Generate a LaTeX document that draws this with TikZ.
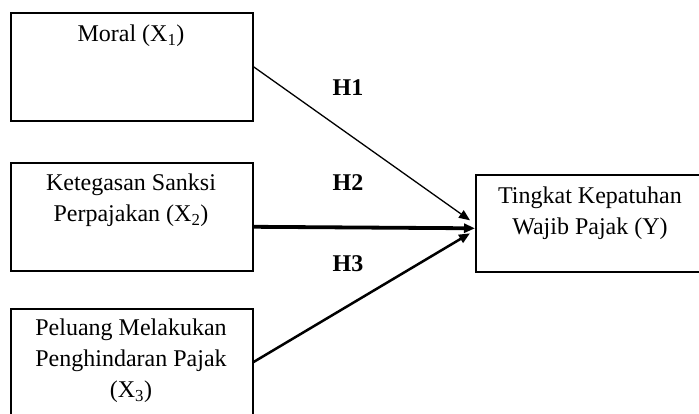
\documentclass[tikz,border=0pt]{standalone}
\usepackage{fontspec}
\setmainfont{Liberation Serif}
\usetikzlibrary{arrows.meta,calc}
\begin{document}
\begin{tikzpicture}[x=1pt,y=-1pt,
  box/.style={draw,line width=1.6pt,rectangle,inner sep=0pt,anchor=north west},
  txt/.style={align=center,font=\fontsize{24}{31}\selectfont,inner sep=0pt},
  hyp/.style={font=\fontsize{24}{31}\selectfont\bfseries,inner sep=0pt},
  arr/.style={-{Triangle[length=11pt,width=9pt]}}]
\useasboundingbox (0,0) rectangle (699,414);
\node[box,minimum width=242pt,minimum height=108pt] (b1) at (10,12) {};
\node[box,minimum width=242pt,minimum height=108pt] (b2) at (10,162) {};
\node[box,minimum width=242pt,minimum height=130pt] (b3) at (10,308) {};
\node[box,minimum width=250pt,minimum height=97pt] (by) at (475,174) {};
\node[txt] (t1) at (131,36) {Moral (X\textsubscript{1})};
\node[txt] (t2) at (131,200) {Ketegasan Sanksi\\Perpajakan (X\textsubscript{2})};
\node[txt] (t3) at (131,361) {Peluang Melakukan\\Penghindaran Pajak\\(X\textsubscript{3})};
\node[txt] (ty) at (590,213) {Tingkat Kepatuhan\\Wajib Pajak (Y)};
\node[hyp] (h1) at (348,88) {H1};
\node[hyp] (h2) at (348,183) {H2};
\node[hyp] (h3) at (348,264) {H3};
\coordinate (e1) at ($(by.west)+(-5,-3)$);
\coordinate (e2) at ($(by.west)+(0,5)$);
\coordinate (e3) at ($(by.west)+(-5,10)$);
\draw[arr,line width=1.3pt] (b1.east) -- (e1);
\draw[arr,line width=3.8pt] ($(b2.east)+(0,10)$) -- (e2);
\draw[arr,line width=2.5pt] ($(b3.north east)+(0,54)$) -- (e3);
\end{tikzpicture}
\end{document}
